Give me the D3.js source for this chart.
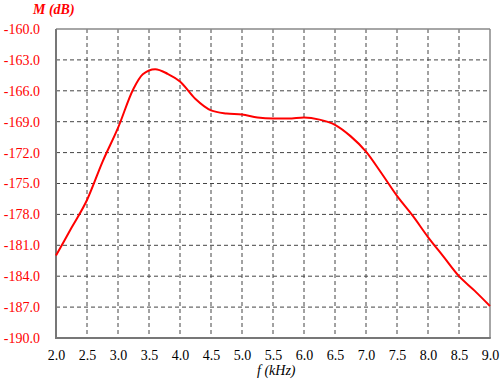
<!DOCTYPE html>
<html><head><meta charset="utf-8">
<script src="https://cdn.jsdelivr.net/npm/d3@7"></script>
</head><body style="margin:0">
<svg id="c" width="500" height="382" font-family="Times New Roman"></svg>
<script>
const freq = [2.0,2.25,2.5,2.75,3.0,3.25,3.4,3.6,3.8,4.0,4.25,4.5,4.75,5.0,5.25,5.5,5.75,6.0,6.25,6.5,6.75,7.0,7.25,7.5,7.75,8.0,8.25,8.5,8.75,9.0];
const mag  = [-182.0,-179.3,-176.6,-172.9,-169.6,-165.8,-164.4,-163.9,-164.35,-165.1,-166.8,-167.9,-168.2,-168.3,-168.6,-168.7,-168.7,-168.6,-168.8,-169.3,-170.4,-171.9,-174.0,-176.2,-178.1,-180.2,-182.1,-184.0,-185.4,-186.9];
const xTicks = [2.0,2.5,3.0,3.5,4.0,4.5,5.0,5.5,6.0,6.5,7.0,7.5,8.0,8.5,9.0];
const yTicks = [-160,-163,-166,-169,-172,-175,-178,-181,-184,-187,-190];

const L=56,R=490,T=29,B=338;
const FONT="Times New Roman";
const svg=d3.select("#c");
const x=d3.scaleLinear().domain([2,9]).range([L,R]);
const y=d3.scaleLinear().domain([-190,-160]).range([B,T]);

const g=svg.append("g");
g.selectAll("line.v").data(xTicks.slice(1,-1)).join("line")
 .attr("x1",d=>x(d)).attr("x2",d=>x(d)).attr("y1",T).attr("y2",B)
 .attr("stroke","#444").attr("stroke-width",1).attr("stroke-dasharray","4,3");
g.selectAll("line.h").data(yTicks.slice(1,-1)).join("line")
 .attr("y1",d=>y(d)).attr("y2",d=>y(d)).attr("x1",L).attr("x2",R)
 .attr("stroke","#444").attr("stroke-width",1).attr("stroke-dasharray","4,3");

svg.append("line").attr("x1",L).attr("x2",R).attr("y1",T).attr("y2",T).attr("stroke","#888").attr("stroke-width",1.5);
svg.append("line").attr("x1",R).attr("x2",R).attr("y1",T).attr("y2",B).attr("stroke","#888").attr("stroke-width",1.5);
svg.append("line").attr("x1",L).attr("x2",L).attr("y1",T).attr("y2",B+1).attr("stroke","#777").attr("stroke-width",2);
svg.append("line").attr("x1",L).attr("x2",R+0.75).attr("y1",B).attr("y2",B).attr("stroke","#777").attr("stroke-width",2);

const line=d3.line().x((d,i)=>x(freq[i])).y(d=>y(d)).curve(d3.curveMonotoneX);
svg.append("path").attr("d",line(mag)).attr("fill","none").attr("stroke","#ff0000").attr("stroke-width",2);

const ax=svg.append("g").attr("transform",`translate(0,${B})`)
 .call(d3.axisBottom(x).tickValues(xTicks).tickFormat(d3.format(".1f")).tickSize(0).tickPadding(12));
ax.select(".domain").remove();
ax.attr("font-family",FONT).attr("font-size",14);
ax.selectAll("text").attr("font-family",FONT).attr("font-size",14).attr("fill","#000");

const ay=svg.append("g").attr("transform",`translate(${L},0)`)
 .call(d3.axisLeft(y).tickValues(yTicks).tickFormat(d3.format(".1f")).tickSize(0).tickPadding(16));
ay.select(".domain").remove();
ay.attr("font-family",FONT).attr("font-size",14);
ay.selectAll("text").attr("font-family",FONT).attr("font-size",14).attr("fill","#ff0000")
 .text(d=>d3.format(".1f")(d).replace("−","-"));

svg.append("text").attr("x",33).attr("y",14).attr("font-family",FONT).attr("font-size",14)
 .attr("font-weight","bold").attr("font-style","italic").attr("fill","#ff0000").text("M (dB)");
svg.append("text").attr("x",257).attr("y",375).attr("font-family",FONT).attr("font-size",14)
 .attr("font-style","italic").attr("fill","#000").text("f (kHz)");
</script>
</body></html>
